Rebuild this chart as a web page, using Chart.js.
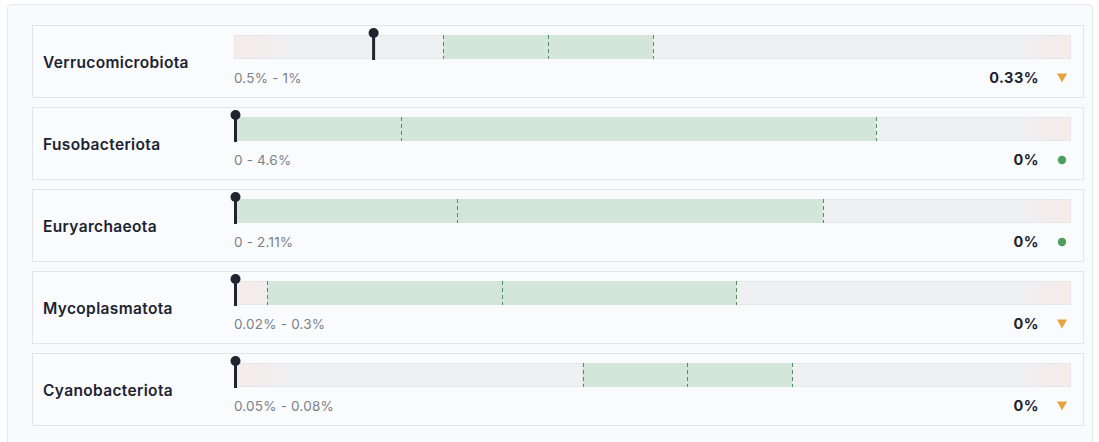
<!DOCTYPE html>
<html>
<head>
<meta charset="utf-8">
<script src="https://cdn.jsdelivr.net/npm/chart.js@4"></script>
<style>
	body { margin: 0; background: #fff; font-family: Inter, "Noto Sans", sans-serif; }
	.panel { position: absolute; left: 7px; top: 4px; width: 1086px; height: 460px; border: 1px solid #e6e9ee; border-radius: 4px; background: #f8fafc; box-sizing: border-box; }
	.card { position: absolute; left: 32px; width: 1052px; height: 73px; border: 1px solid #e2e6eb; background: #f9fbfd; box-sizing: border-box; }
	.name { position: absolute; left: 10px; top: 26px; font-size: 15.5px; font-weight: 600; color: #1d2330; line-height: 22px; letter-spacing: 0.35px; }
	.range { position: absolute; left: 201px; top: 42px; font-size: 13.5px; color: #7d8189; line-height: 20px; letter-spacing: 0.2px; }
	.value { position: absolute; right: 44px; top: 42px; font-size: 14.5px; font-weight: 700; color: #1d2330; line-height: 20px; letter-spacing: 0.5px; }
	.icon { position: absolute; right: 16px; top: 47px; }
	.card canvas { position: absolute; left: 191px; top: -1px; }
</style>
</head>
<body>
<div class="panel"></div>
<div id="rows"></div>
<script>
	const names = ['Verrucomicrobiota', 'Fusobacteriota', 'Euryarchaeota', 'Mycoplasmatota', 'Cyanobacteriota'];
	const scaleMax = [2, 6, 3, 0.5, 0.12];
	const rangeLow = [0.5, 0, 0, 0.02, 0.05];
	const rangeMid = [0.75, 1.2, 0.8, 0.16, 0.065];
	const rangeHigh = [1, 4.6, 2.11, 0.3, 0.08];
	const values = [0.33, 0, 0, 0, 0];
	const status = ['low', 'ok', 'ok', 'low', 'low'];
	const rangeLabels = ['0.5% - 1%', '0 - 4.6%', '0 - 2.11%', '0.02% - 0.3%', '0.05% - 0.08%'];
	const valueLabels = ['0.33%', '0%', '0%', '0%', '0%'];

	// dashed range lines + pin marker
	const markerPlugin = {
		id: 'marker',
		afterDatasetsDraw(chart, args, opts) {
			const ctx = chart.ctx;
			const x = chart.scales.x;
			const area = chart.chartArea;
			ctx.save();
			ctx.strokeStyle = '#4f8f60';
			ctx.lineWidth = 1;
			ctx.setLineDash([4, 3]);
			[opts.low, opts.mid, opts.high].forEach(function(v) {
				const px = Math.round(x.getPixelForValue(v)) + 0.5;
				ctx.beginPath();
				ctx.moveTo(px, area.top);
				ctx.lineTo(px, area.bottom);
				ctx.stroke();
			});
			ctx.setLineDash([]);
			const mx = x.getPixelForValue(opts.value) + 1.5;
			ctx.strokeStyle = '#1f2430';
			ctx.fillStyle = '#1f2430';
			ctx.lineWidth = 3;
			ctx.beginPath();
			ctx.moveTo(mx, area.top - 2);
			ctx.lineTo(mx, area.bottom + 1);
			ctx.stroke();
			ctx.beginPath();
			ctx.arc(mx, area.top - 2, 5, 0, Math.PI * 2);
			ctx.fill();
			ctx.restore();
		}
	};

	function trackGradient(context) {
		const area = context.chart.chartArea;
		if(!area) {
			return '#eff0f2';
		}
		const g = context.chart.ctx.createLinearGradient(area.left, 0, area.right, 0);
		g.addColorStop(0, '#f7ebe9');
		g.addColorStop(0.07, '#eff0f2');
		g.addColorStop(0.94, '#eff0f2');
		g.addColorStop(1, '#f7ebe9');
		return g;
	}

	const rows = document.getElementById('rows');
	names.forEach(function(name, i) {
		const card = document.createElement('div');
		card.className = 'card';
		card.style.top = (25 + i * 82) + 'px';
		let icon;
		if(status[i] === 'ok') {
			icon = '<svg class="icon" width="10" height="10" viewBox="0 0 10 10"><circle cx="5" cy="5" r="4.2" fill="#4f9d5f"/></svg>';
		} else {
			icon = '<svg class="icon" width="10" height="10" viewBox="0 0 10 10"><path d="M0 0.5 L10 0.5 L5 9.5 Z" fill="#e6a23c"/></svg>';
		}
		card.innerHTML = '<div class="name">' + name + '</div>' +
			'<canvas width="856" height="40" style="width:856px;height:40px"></canvas>' +
			'<div class="range">' + rangeLabels[i] + '</div>' +
			'<div class="value">' + valueLabels[i] + '</div>' + icon;
		rows.appendChild(card);
		const canvas = card.querySelector('canvas');
		new Chart(canvas, {
			type: 'bar',
			data: {
				labels: [name],
				datasets: [{
					data: [[rangeLow[i], rangeHigh[i]]],
					backgroundColor: '#d3e6d9',
					borderWidth: 0,
					grouped: false,
					order: 1
				}, {
					data: [[0, scaleMax[i]]],
					backgroundColor: trackGradient,
					borderColor: '#e1e4e8',
					borderWidth: 1,
					borderSkipped: false,
					grouped: false,
					order: 2
				}]
			},
			options: {
				indexAxis: 'y',
				responsive: false,
				animation: false,
				events: [],
				layout: { padding: { left: 10, right: 9, top: 10, bottom: 6 } },
				datasets: { bar: { barPercentage: 1, categoryPercentage: 1 } },
				scales: {
					x: { display: false, min: 0, max: scaleMax[i] },
					y: { display: false }
				},
				plugins: {
					legend: { display: false },
					tooltip: { enabled: false },
					marker: { low: rangeLow[i], mid: rangeMid[i], high: rangeHigh[i], value: values[i] }
				}
			},
			plugins: [markerPlugin]
		});
	});
</script>
</body>
</html>
